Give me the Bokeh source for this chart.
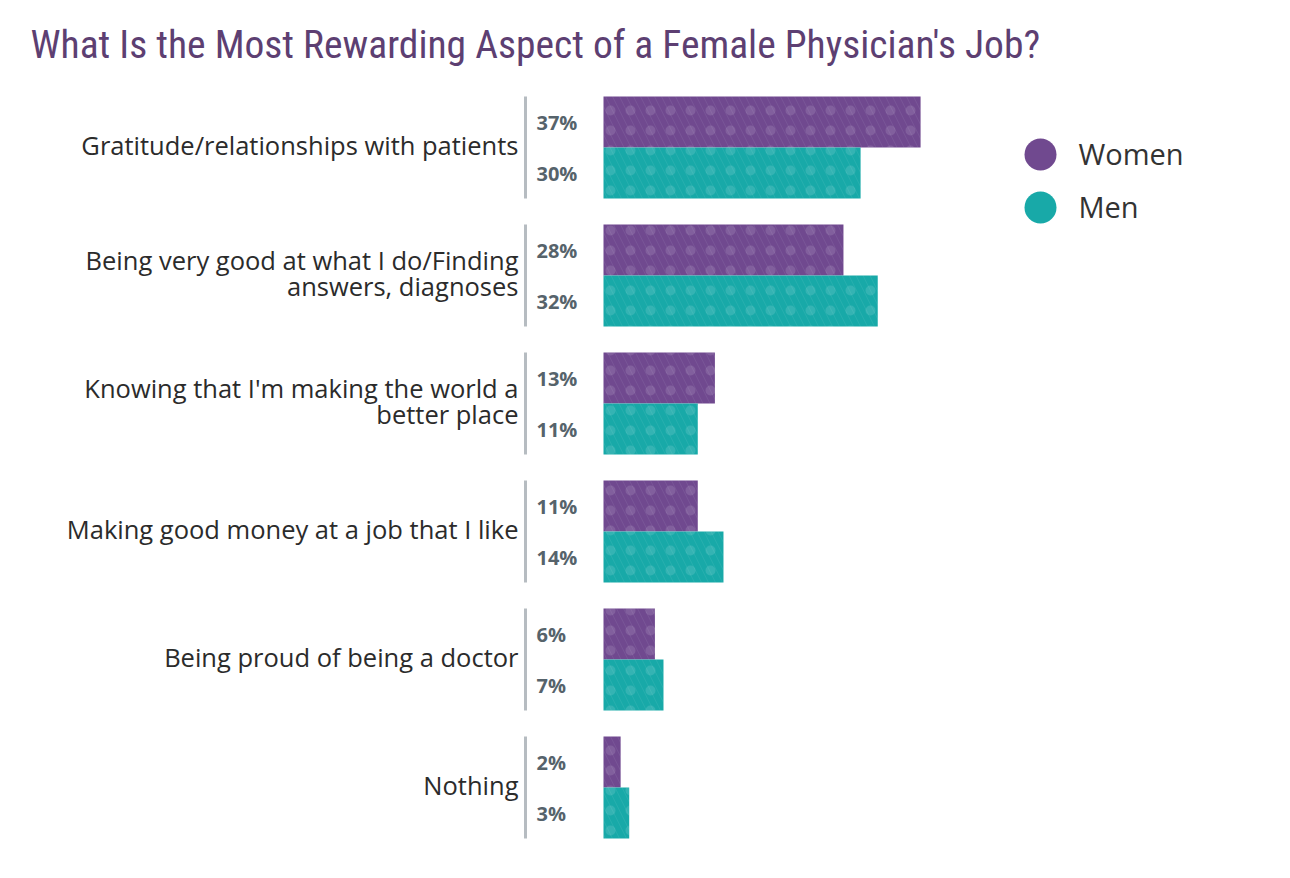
from bokeh.plotting import figure
from bokeh.models import Range1d, ColumnDataSource
from bokeh.core.properties import value
from bokeh.embed import file_html
from bokeh.resources import INLINE

title = "What Is the Most Rewarding Aspect of a Female Physician's Job?"
categories = [
    "Gratitude/relationships with patients",
    "Being very good at what I do/Finding\nanswers, diagnoses",
    "Knowing that I'm making the world a\nbetter place",
    "Making good money at a job that I like",
    "Being proud of being a doctor",
    "Nothing",
]
women = [37, 28, 13, 11, 6, 2]
men = [30, 32, 11, 14, 7, 3]
series = ["Women", "Men"]
colors = ["#70498f", "#18a9a8"]

W, H = 1274, 862
X0 = 603.0          # canvas px of 0 %
PX_PER = 8.57       # px per percent
Y0 = 147.0          # canvas px of first group centre
PITCH = 128.0       # px per group
BAR = 51.0 / PITCH  # bar height in group units

def px_x(px):
    return (px - X0) / PX_PER

def px_y(py):
    return (py - Y0) / PITCH

p = figure(width=W, height=H, output_backend="svg", toolbar_location=None,
           x_range=Range1d(px_x(0), px_x(W)), y_range=Range1d(px_y(H), px_y(0)),
           min_border=0, outline_line_color=None)
p.axis.visible = False
p.grid.visible = False
p.background_fill_color = "white"
p.border_fill_color = "white"

idx = list(range(len(categories)))
y_w = [i - BAR / 2 for i in idx]
y_m = [i + BAR / 2 for i in idx]

for ys, vals, col in [(y_w, women, colors[0]), (y_m, men, colors[1])]:
    src = ColumnDataSource(dict(y=ys, right=vals))
    p.hbar(y="y", left=0, right="right", height=BAR, source=src,
           fill_color=col, line_color=None)
    p.hbar(y="y", left=0, right="right", height=BAR, source=src,
           fill_alpha=0, line_color=None, hatch_pattern="left_diagonal_line",
           hatch_color="white", hatch_alpha=0.06, hatch_scale=14, hatch_weight=1)
    p.hbar(y="y", left=0, right="right", height=BAR, source=src,
           fill_alpha=0, line_color=None, hatch_pattern="dot",
           hatch_color="white", hatch_alpha=0.12, hatch_scale=20, hatch_weight=0.4)

# separator lines
p.segment(x0=[px_x(525)] * len(idx), x1=[px_x(525)] * len(idx),
          y0=[i - BAR for i in idx], y1=[i + BAR for i in idx],
          line_color="#b6bcc1", line_width=3)

# value labels
p.text(x=[px_x(536)] * len(idx) * 2, y=y_w + y_m,
       text=[f"{v}%" for v in women] + [f"{v}%" for v in men],
       text_font=value("Open Sans"), text_font_size="20px", text_font_style="bold",
       text_color="#56636b", text_align="left", text_baseline="middle")

# category labels
p.text(x=[px_x(518)] * len(idx), y=[i - 0.02 for i in idx], text=categories,
       text_font=value("Open Sans"), text_font_size="25.5px", text_color="#2b2b2b",
       text_align="right", text_baseline="middle", text_line_height=0.75)

# legend
p.scatter(x=[px_x(1040)] * 2, y=[px_y(154), px_y(207)], size=32,
          fill_color=colors, line_color=None)
p.text(x=[px_x(1078)] * 2, y=[px_y(153), px_y(206)], text=series,
       text_font=value("Open Sans"), text_font_size="29px", text_color="#333333",
       text_align="left", text_baseline="middle")

# title
p.text(x=[px_x(30)], y=[px_y(44)], text=[title],
       text_font=value("Roboto Condensed, DejaVu Sans Condensed, Roboto"),
       text_font_size="39.5px",
       text_color="#5d3f72", text_align="left", text_baseline="alphabetic")

open("out.html", "w").write(file_html(p, INLINE))
